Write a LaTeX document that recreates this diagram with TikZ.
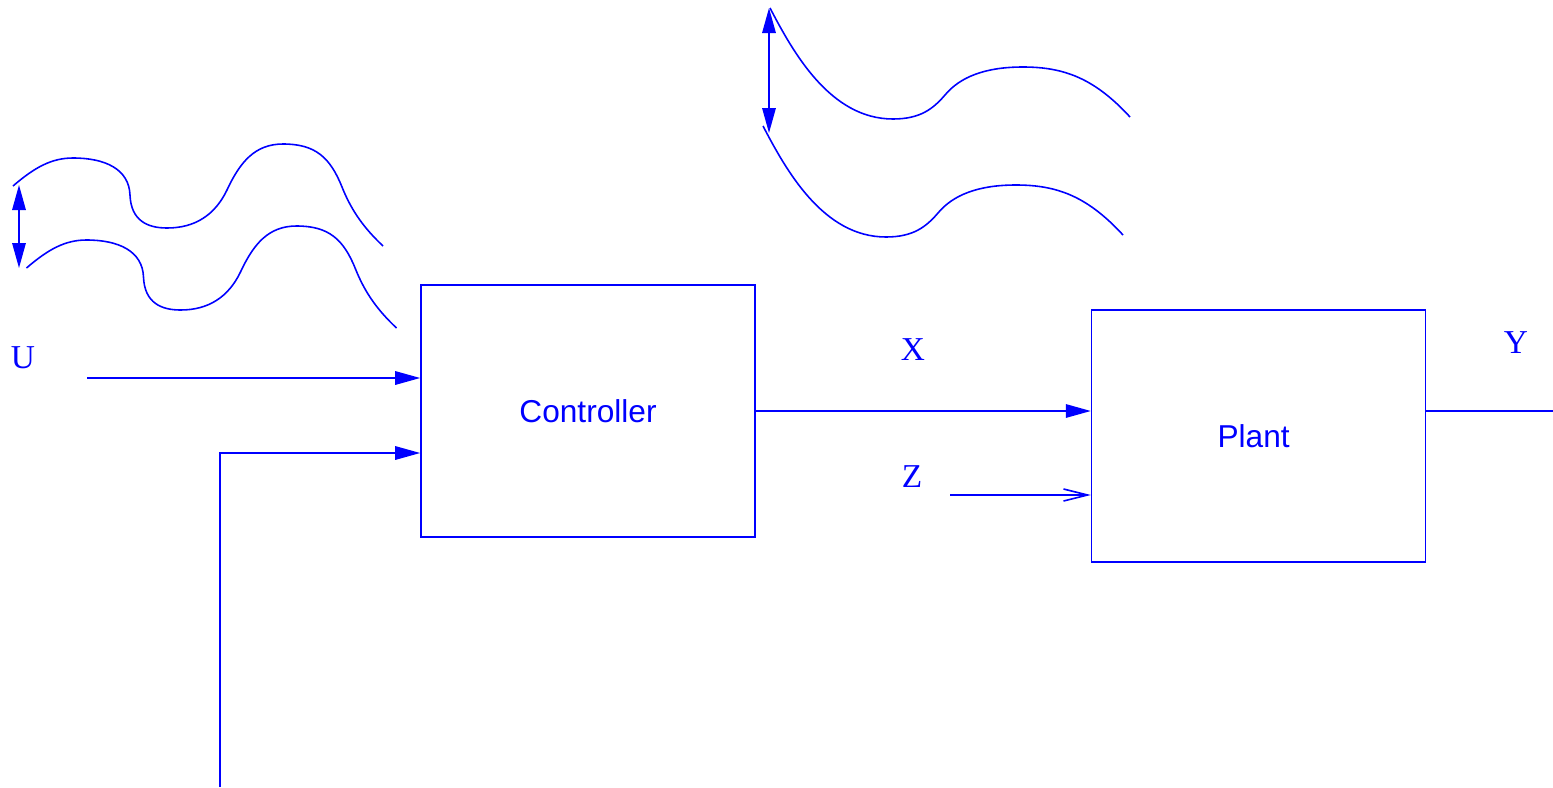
\documentclass[tikz,border=0pt]{standalone}
\usepackage{fontspec}
\setmainfont{Liberation Serif}
\setsansfont{Liberation Sans}
\usetikzlibrary{positioning, arrows.meta}

\begin{document}
\begin{tikzpicture}[
    line width=0.45pt,
    block/.style={
        rectangle, draw=blue,
        minimum width=3.34cm, minimum height=2.52cm,
        inner sep=0pt,
        text=blue,
        font=\fontsize{9}{11}\selectfont\sffamily
    },
    signal/.style={text=blue, font=\fontsize{9.5}{11}\selectfont},
    flow/.style={draw=blue, -{Triangle[length=2.5mm, width=1.35mm]}},
    openflow/.style={draw=blue, -{Straight Barb[length=2.4mm, width=1.2mm]}},
    plainline/.style={draw=blue},
    spread/.style={draw=blue, {Triangle[length=2.5mm, width=1.35mm]}-{Triangle[length=2.5mm, width=1.35mm]}},
    wave/.style={draw=blue}
]
\useasboundingbox (0,0) rectangle (15.53,7.87);

% ============ Blocks ============
\node[block] (controller) at (5.88,3.76) {Controller};
\node[block, right=3.35cm of controller, yshift=-0.25cm] (plant) {\hspace*{-0.1cm}Plant};

% ============ Signal labels ============
\node[signal] (ulabel) at (0.23,4.29) {U};
\node[signal] (xlabel) at (9.13,4.37) {X};
\node[signal] (zlabel) at (9.12,3.10) {Z};
\node[signal] (ylabel) at (15.16,4.44) {Y};

% ============ Free ends ============
\coordinate (uin) at (0.87,4.09);
\coordinate (fbin) at (2.20,0);
\coordinate (zin) at (9.50,2.92);
\coordinate (yout) at (15.53,3.76);

% ============ Connectors ============
\draw[flow] (uin) -- (uin -| controller.west);
\draw[flow] (fbin) |- ([yshift=-0.42cm]controller.west);
\draw[flow] (controller.east) -- (controller.east -| plant.west);
\draw[openflow] (zin) -- (zin -| plant.west);
\draw[plainline] (yout -| plant.east) -- (yout);

% ============ Waves (left) ============
\foreach \dx/\dy in {0/0, 0.135/-0.82} {
    \draw[wave, shift={(\dx,\dy)}] (0.13,6.01)
        .. controls (0.35,6.20) and (0.52,6.29) .. (0.73,6.29)
        .. controls (1.05,6.29) and (1.29,6.18) .. (1.30,5.92)
        .. controls (1.31,5.66) and (1.48,5.59) .. (1.67,5.59)
        .. controls (1.95,5.59) and (2.15,5.72) .. (2.27,5.97)
        .. controls (2.40,6.25) and (2.55,6.43) .. (2.83,6.43)
        .. controls (3.15,6.43) and (3.30,6.30) .. (3.42,6.00)
        .. controls (3.52,5.75) and (3.65,5.58) .. (3.83,5.41);
}
\coordinate (ltop) at (0.19,6.02);
\coordinate (lbot) at (0.19,5.19);
\draw[spread] (ltop) -- (lbot);

% ============ Waves (top) ============
\foreach \dx/\dy in {0/0, -0.07/-1.18} {
    \draw[wave, shift={(\dx,\dy)}] (7.70,7.79)
        .. controls (7.93,7.35) and (8.30,6.68) .. (8.93,6.68)
        .. controls (9.20,6.68) and (9.33,6.78) .. (9.45,6.92)
        .. controls (9.60,7.10) and (9.85,7.20) .. (10.23,7.20)
        .. controls (10.65,7.20) and (10.95,7.08) .. (11.30,6.70);
}
\coordinate (ttop) at (7.69,7.79);
\coordinate (tbot) at (7.69,6.54);
\draw[spread] (ttop) -- (tbot);

\end{tikzpicture}
\end{document}
